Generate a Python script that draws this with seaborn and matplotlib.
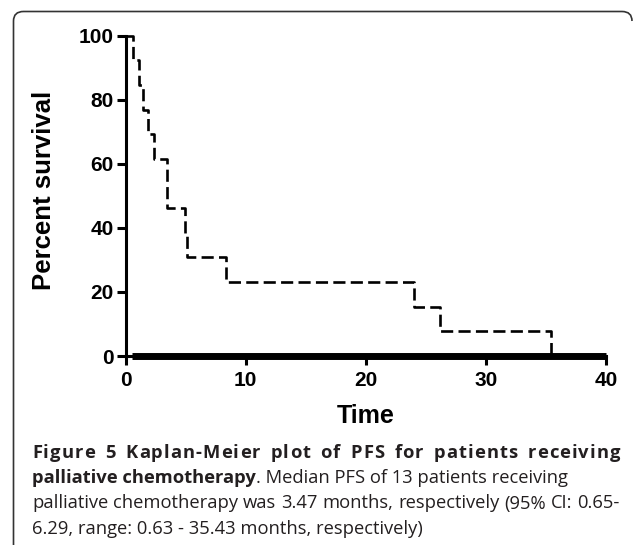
import numpy as np
import pandas as pd
import matplotlib
matplotlib.use("Agg")
import matplotlib.pyplot as plt
import seaborn as sns
from matplotlib.path import Path
from matplotlib.patches import PathPatch
from matplotlib.transforms import IdentityTransform

# ---- data ----
time_points = [0, 0.63, 1.13, 1.47, 1.83, 2.36, 3.47, 4.94, 5.14, 8.36, 24.0, 26.2, 35.43]
percent_survival = [100, 92.3, 84.6, 76.9, 69.2, 61.5, 46.2, 38.5, 30.8, 23.1, 15.4, 7.7, 0]
zero_bar_x = [0.5, 40]
zero_bar_y = [0, 0]
x_ticks = [0, 10, 20, 30, 40]
y_ticks = [0, 20, 40, 60, 80, 100]
x_label = "Time"
y_label = "Percent survival"
caption_l1 = "Figure 5 Kaplan-Meier plot of PFS for patients receiving"
caption_l2_bold = "palliative chemotherapy"
caption_l2_reg = ". Median PFS of 13 patients receiving"
caption_l3 = "palliative chemotherapy was 3.47 months, respectively (95% CI: 0.65-"
caption_l4 = "6.29, range: 0.63 - 35.43 months, respectively)"

W, H = 633, 545
sns.set_theme(style="ticks")
plt.rcParams['font.family'] = ['Liberation Sans', 'DejaVu Sans']

fig = plt.figure(figsize=(W / 100, H / 100), dpi=100)
ax_left, ax_right, ax_top, ax_bot = 125.7, 606, 35.7, 356
ax = fig.add_axes([ax_left / W, 1 - ax_bot / H, (ax_right - ax_left) / W, (ax_bot - ax_top) / H])

df = pd.DataFrame({"t": time_points, "s": percent_survival})
sns.lineplot(data=df, x="t", y="s", drawstyle="steps-post", estimator=None, sort=False,
             color="black", lw=1.9, ax=ax)
ax.lines[0].set_dashes([4.6, 2.0])
ax.lines[0].set_clip_on(False)

zb = pd.DataFrame({"x": zero_bar_x, "y": zero_bar_y})
sns.lineplot(data=zb, x="x", y="y", color="black", lw=5.0, ax=ax, estimator=None, sort=False)
ax.lines[-1].set_clip_on(False)
ax.lines[-1].set_solid_capstyle("butt")

ax.set_xlim(0, 40)
ax.set_ylim(0, 100)
ax.set_xticks(x_ticks)
ax.set_yticks(y_ticks)
for sp in ["top", "right"]:
    ax.spines[sp].set_visible(False)
for sp in ["left", "bottom"]:
    ax.spines[sp].set_linewidth(2.2)
    ax.spines[sp].set_color("black")
ax.tick_params(axis="both", direction="out", length=6.5, width=2.2, color="black",
               labelsize=15, labelcolor="black")
ax.tick_params(axis="y", pad=2)
ax.tick_params(axis="x", pad=4.5)
for lab in ax.get_xticklabels() + ax.get_yticklabels():
    lab.set_fontweight("bold")
ax.set_xlabel(x_label, fontsize=18, fontweight="bold", color="black")
ax.set_ylabel(y_label, fontsize=18.5, fontweight="bold", color="black")
ax.xaxis.set_label_coords(0.5, -(416 - ax_bot) / (ax_bot - ax_top))
ax.xaxis.label.set_va("center")
ax.yaxis.set_label_coords(-(ax_left - 44) / (ax_right - ax_left), (ax_bot - 190) / (ax_bot - ax_top))
ax.yaxis.label.set_va("center")

# ---- frame with rounded corners (pixel coords) ----
def px(x, y):
    return (x, H - y)
verts = [px(13.5, H + 2), px(13.5, 21), px(13.5, 11.5), px(23.5, 11.5), px(622, 11.5),
         px(632, 11.5), px(632, 21)]
codes = [Path.MOVETO, Path.LINETO, Path.CURVE3, Path.CURVE3, Path.LINETO, Path.CURVE3, Path.CURVE3]
fig.patches.append(PathPatch(Path(verts, codes), transform=IdentityTransform(), fill=False,
                             edgecolor="#333333", lw=1.2, figure=fig))

# ---- caption ----
cap_font = ["Open Sans", "DejaVu Sans"]
cap_color = "#231f20"
fig.canvas.draw()
renderer = fig.canvas.get_renderer()

def width_of(s, size, weight):
    t = fig.text(0, 0, s, fontsize=size, fontweight=weight, family=cap_font)
    w = t.get_window_extent(renderer).width
    t.remove()
    return w

base = 12.0
cap_size = base * 390 / width_of(caption_l4, base, "normal")
x0, x1 = 32, 620

def put(s, x, yb, weight):
    fig.text(x / W, 1 - yb / H, s, fontsize=cap_size, fontweight=weight, family=cap_font,
             color=cap_color, va="baseline", ha="left")
    return width_of(s, cap_size, weight)

def justified_words(s, yb, weight):
    words = s.split(" ")
    ws = [width_of(w, cap_size, weight) for w in words]
    gap = (x1 - x0 - sum(ws)) / (len(words) - 1)
    x = x0
    for w, wd in zip(words, ws):
        put(w, x, yb, weight)
        x += wd + gap

def justified_letters(s, yb, weight, word_factor=5):
    words = s.split(" ")
    ws = [width_of(w, cap_size, weight) for w in words]
    sp = width_of("a a", cap_size, weight) - width_of("aa", cap_size, weight)
    n = len(words)
    nchar_gaps = sum(len(w) - 1 for w in words)
    extra = (x1 - x0) - (sum(ws) + sp * (n - 1))
    e = extra / (nchar_gaps + word_factor * (n - 1))
    gap = sp + word_factor * e
    x = x0
    for w, wd in zip(words, ws):
        for k, ch in enumerate(w):
            pre = width_of(w[:k], cap_size, weight) if k > 0 else 0.0
            put(ch, x + pre + k * e, yb, weight)
        x += wd + (len(w) - 1) * e + gap

justified_letters(caption_l1, 457.5, "bold")
wb = put(caption_l2_bold, x0, 483, "bold")
put(caption_l2_reg, x0 + wb, 483, "normal")
justified_words(caption_l3, 508.5, "normal")
put(caption_l4, x0, 534, "normal")

fig.savefig("out.png", dpi=100)
